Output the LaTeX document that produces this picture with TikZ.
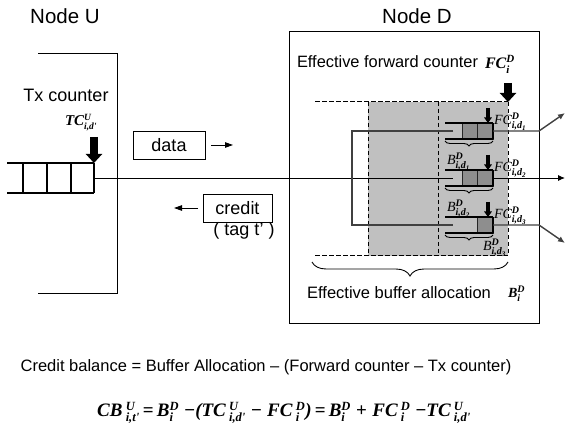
\documentclass[tikz,border=0pt]{standalone}
\usepackage{fontspec}
\setmainfont{Liberation Sans}
\newfontfamily\serifface{Liberation Serif}
\usetikzlibrary{arrows.meta,decorations.pathreplacing}

% symbol fonts
\newcommand\bi{\serifface\bfseries\itshape}
\newcommand\ri{\serifface\itshape}
% base letters with superscript and subscript, script size given first
\newcommand\sym[4][10.5]{#2$^{\mbox{\fontsize{#1}{#1}\selectfont\bi #3}}_{\mbox{\fontsize{#1}{#1}\selectfont\bi #4}}$}
% nested index d_k
\newcommand\dk[1]{d\raisebox{-1.8pt}{\fontsize{7}{7}\selectfont #1}}

\definecolor{zonegray}{HTML}{C0C0C0}
\definecolor{cellgray}{HTML}{8E8E8E}
\definecolor{linkgray}{HTML}{404040}

\begin{document}
\begin{tikzpicture}[x=1pt,y=-1pt,
  every node/.style={inner sep=0pt,outer sep=0pt},
  title/.style={font=\fontsize{20.5}{24}\selectfont},
  caption/.style={font=\fontsize{16.5}{20}\selectfont},
  msgbox/.style={draw,line width=0.9pt,font=\fontsize{18}{21}\selectfont,
    minimum height=28pt},
  qlabel/.style={anchor=base west,font=\fontsize{14}{16}\selectfont\ri},
  wall/.style={line width=1pt},
  dashline/.style={line width=1pt,dash pattern=on 4.5pt off 2.5pt},
  qline/.style={line width=1.1pt},
  flow/.style={line width=0.9pt},
  link/.style={draw=linkgray,line width=1.4pt},
  outtip/.style={-{Latex[length=7pt,width=6pt]}},
  bigdown/.style={line width=7.5pt,-{Triangle[length=9pt,width=16pt]}},
  smalldown/.style={line width=3.5pt,-{Triangle[length=5.5pt,width=7.5pt]}},
  msgtip/.style={line width=0.9pt,-{Triangle[length=8pt,width=5.5pt]}},
  brc/.style={decorate,line width=0.9pt,decoration={brace,mirror,amplitude=#1}}]
\useasboundingbox (0,0) rectangle (566,441);

% ---------- titles ----------
\node[title] (tU) at (65,16) {Node U};
\node[title] (tD) at (417,16) {Node D};

% ---------- node U ----------
\draw[wall] (38,54) -- (117,54) -- (117,294) -- (38,294);
\node[font=\fontsize{18}{21}\selectfont] (txc) at (66,95) {Tx counter};
\node[anchor=base west,font=\fontsize{15}{18}\selectfont\bi] (tcU) at (65,126)
  {\sym[9.5]{TC}{U}{i,d'}};
\draw[bigdown] (94,137) -- (94,163);
% transmit queue
\draw[qline] (7,163) -- (94,163) (7,193) -- (94,193);
\foreach \x in {23,47,71,94} \draw[qline] (\x,163) -- (\x,193);
\coordinate (qU) at (94,178);

% ---------- messages ----------
\node[msgbox,minimum width=72pt] (data) at (169,145) {data};
\draw[msgtip] ([xshift=6pt]data.east) -- ++(22,0);
\node[msgbox,minimum width=69pt] (credit) at (237.5,208) {credit};
\draw[msgtip] ([xshift=-5pt]credit.west) -- ++(-24,0);
\node[font=\fontsize{18}{21}\selectfont] (tag) at (244,231) {( tag t’ )};

% ---------- node D ----------
\draw[wall] (289,32) rectangle (539,324);
\node[font=\fontsize{16.4}{20}\selectfont,anchor=base west] (efc) at (297,68) {Effective forward counter};
\node[anchor=base west,font=\fontsize{16}{18}\selectfont\bi] (fcD) at (485,69)
  {\sym[11]{FC}{D}{i}};
\draw[bigdown] (508,83) -- (508,102);

% buffer zone
\fill[zonegray] (368,102) rectangle (508,256);
\draw[dashline] (315,102) -- (508,102) (315,256) -- (508,256);
\draw[dashline] (368,102) -- (368,256) (438,102) -- (438,256) (508,102) -- (508,256);

% per-destination queues
\foreach \k/\yt/\full in {1/123/1,2/170/1,3/217/0}{
  \coordinate (in\k) at (453,\yt+8);
  \coordinate (out\k) at (493,\yt+8);
  \ifnum\full=1
    \filldraw[fill=cellgray,draw=black!85,line width=0.9pt] (462,\yt) rectangle (477,\yt+16);
  \fi
  \filldraw[fill=cellgray,draw=black!85,line width=0.9pt] (477,\yt) rectangle (493,\yt+16);
  \draw[qline] (445,\yt) -- (493,\yt) (445,\yt+16) -- (493,\yt+16) (493,\yt) -- (493,\yt+16);
  \draw[brc=5pt] (445,\yt+18) -- (493,\yt+18);
  \draw[smalldown] (488,\yt-15) -- (488,\yt);
  \node[qlabel] (fc\k) at (494,\yt+2) {\sym[10]{FC}{D}{i,\dk{\k}}};
}
\node[qlabel] (b1) at (447,165) {\sym[10]{B}{D}{i,\dk{1}}};
\node[qlabel] (b2) at (447,212) {\sym[10]{B}{D}{i,\dk{2}}};
\node[qlabel] (b3) at (483,251) {\sym[10]{B}{D}{i,\dk{3}}};

% links through the node
\draw[flow] (qU) -- (in2);
\draw[link] (in1) -- (352,131) -- (352,225) -- (in3);
\coordinate (dst1) at (565,113);
\coordinate (dst2) at (565,178);
\coordinate (dst3) at (565,243);
\draw[link,outtip] (out1) -- (539,131) -- (dst1);
\draw[flow,outtip] (out2) -- (dst2);
\draw[link,outtip] (out3) -- (539,225) -- (dst3);

% effective buffer allocation
\draw[brc=14pt] (312,262) -- (508,262);
\node[caption,anchor=base] (eba) at (399,299) {Effective buffer allocation};
\node[anchor=base west,font=\fontsize{14}{16}\selectfont\bi] (bD) at (508,298)
  {\sym[10]{B}{D}{i}};

% ---------- balance formula ----------
\node[caption,anchor=base] (cbtxt) at (266,372)
  {Credit balance = Buffer Allocation – (Forward counter – Tx counter)};
\node[anchor=base,font=\fontsize{19}{22}\selectfont\bi] (cbeq) at (284,417)
  {\sym[12.5]{CB\,}{U}{i,t'}\,{\upshape=}\,\sym[12.5]{B}{D}{i}\;{\upshape−}(\sym[12.5]{TC\,}{U}{i,d'}\;{\upshape−}\;\sym[12.5]{FC\,}{D}{i})\,{\upshape=}\,\sym[12.5]{B}{D}{i}\;{\upshape+}\;\sym[12.5]{FC\,}{D}{i}\;{\upshape−}\sym[12.5]{TC\,}{U}{i,d'}};
\end{tikzpicture}
\end{document}
